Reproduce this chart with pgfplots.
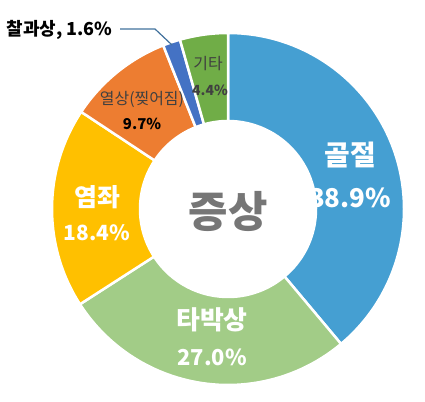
\documentclass[border=0pt]{standalone}
\usepackage{fontspec}
\setmainfont{Noto Sans CJK KR}
\usepackage{pgfplots}
\usepackage{pgfplotstable}
\pgfplotsset{compat=1.18}

% slice colours, in table order
\definecolor{slice0}{HTML}{459FD2}
\definecolor{slice1}{HTML}{A2CC87}
\definecolor{slice2}{HTML}{FFC000}
\definecolor{slice3}{HTML}{ED7D31}
\definecolor{slice4}{HTML}{4472C4}
\definecolor{slice5}{HTML}{70AD47}
\definecolor{leader}{HTML}{41719C}
\definecolor{centergray}{HTML}{767676}
\definecolor{darktext}{HTML}{404040}

\newcommand{\fs}[1]{\fontsize{#1}{#1}\selectfont}

%% share of injuries (%), clockwise from 12 o'clock
\pgfplotstableread{
name value
골절 38.9
타박상 27.0
염좌 18.4
열상 9.7
찰과상 1.6
기타 4.4
}\injury

\begin{document}
\begin{tikzpicture}
    %% cumulative angles of each slice
    \xdef\cum{0}
    \foreach \i in {0,...,5}{
        \pgfplotstablegetelem{\i}{value}\of\injury
        \pgfmathsetmacro\a{90-3.6*\cum}
        \pgfmathsetmacro\b{90-3.6*(\cum+\pgfplotsretval)}
        \pgfmathsetmacro\c{\cum+\pgfplotsretval}
        \expandafter\xdef\csname angA\i\endcsname{\a}
        \expandafter\xdef\csname angB\i\endcsname{\b}
        \xdef\cum{\c}
    }
    \begin{axis}[
        width=425bp, height=402bp, scale only axis,
        xmin=0, xmax=425, ymin=0, ymax=402,
        y dir=reverse,
        hide axis, clip=false,
    ]
    \path (axis cs:0,0) rectangle (axis cs:425,402);
    %% ring slices
    \pgfplotsinvokeforeach{0,...,5}{
        \begin{scope}[shift={(axis cs:228,209)}]
        \fill[fill=slice#1, draw=white, line width=2.5bp, line join=miter]
            (\csname angA#1\endcsname:176bp)
            arc[start angle=\csname angA#1\endcsname, end angle=\csname angB#1\endcsname, radius=176bp]
            -- (\csname angB#1\endcsname:88bp)
            arc[start angle=\csname angB#1\endcsname, end angle=\csname angA#1\endcsname, radius=88bp]
            -- cycle;
        \end{scope}
    }
    %% labels
    \node[white, font=\bfseries\fs{28}] at (axis cs:350,155) {골절};
    \node[white, font=\bfseries\fs{26}] at (axis cs:350,198) {38.9\%};
    \node[white, font=\bfseries\fs{26}] at (axis cs:212,320) {타박상};
    \node[white, font=\bfseries\fs{22}] at (axis cs:212,357) {27.0\%};
    \node[white, font=\bfseries\fs{25}] at (axis cs:97,197) {염좌};
    \node[white, font=\bfseries\fs{21}] at (axis cs:97,233) {18.4\%};
    \node[darktext, font=\fs{16}] at (axis cs:142,99) {열상(찢어짐)};
    \node[black, font=\bfseries\fs{15}] at (axis cs:142,124) {9.7\%};
    \node[darktext, font=\fs{16}] at (axis cs:208,64) {기타};
    \node[darktext, font=\bfseries\fs{14}] at (axis cs:210,90) {4.4\%};
    \node[black, font=\bfseries\fs{18}, anchor=east] at (axis cs:116,30) {찰과상, 1.6\%};
    \draw[leader, line width=1.2bp] (axis cs:120,29) -- (axis cs:155,29) -- (axis cs:172,45);
    \node[centergray, font=\bfseries\fs{43}] at (axis cs:228,211) {증상};
    \end{axis}
\end{tikzpicture}
\end{document}
